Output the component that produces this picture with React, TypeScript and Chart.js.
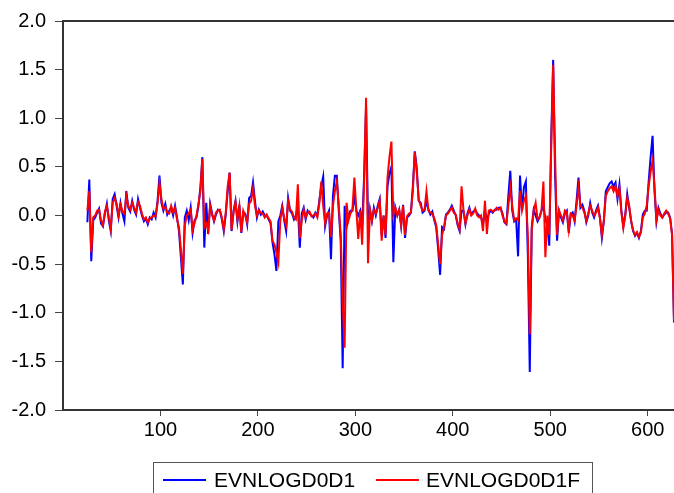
import React, { useEffect, useRef } from "react";
import { Chart, registerables } from "chart.js";

Chart.register(...registerables);

const seriesNames = ["EVNLOGD0D1", "EVNLOGD0D1F"];
const seriesColors = ["#0000ff", "#ff0000"];
const firstObs = 25;
const obsStep = 2;
const xMin = 0;
const xMax = 627;
const xTickValues = [100, 200, 300, 400, 500, 600];
const yTickValues = [-2.0, -1.5, -1.0, -0.5, 0.0, 0.5, 1.0, 1.5, 2.0];

// observations 25, 27, 29, ... 627
const evnlogd0d1 = [
  -0.07, 0.37, -0.47, -0.05, -0.02, 0.03, 0.07, -0.08, -0.11, 0.02,
  0.12, -0.05, -0.16, 0.17, 0.22, 0.1, -0.02, 0.13, 0.02, -0.06,
  0.25, 0.08, 0.04, 0.15, 0.06, 0.01, 0.17, 0.08, 0.0, -0.06,
  -0.03, -0.09, -0.02, -0.04, 0.03, -0.02, 0.15, 0.41, 0.13, 0.05,
  0.12, 0.01, 0.05, 0.08, 0.0, 0.1, -0.02, -0.16, -0.43, -0.71,
  -0.02, 0.05, -0.05, 0.08, -0.18, -0.05, -0.02, 0.1, 0.29, 0.6,
  -0.33, 0.13, -0.19, 0.12, 0.02, -0.06, 0.01, 0.06, 0.05, -0.04,
  -0.16, 0.01, 0.25, 0.44, -0.16, 0.05, 0.15, -0.06, 0.11, -0.18,
  0.03, 0.02, -0.09, 0.18, 0.2, 0.34, 0.15, -0.02, 0.06, 0.01,
  0.04, 0.0, 0.0, -0.04, -0.08, -0.28, -0.4, -0.57, -0.06, 0.0,
  0.1, -0.05, -0.16, 0.18, 0.05, 0.02, -0.04, 0.0, 0.1, -0.33,
  0.02, 0.08, -0.04, 0.05, 0.02, 0.0, -0.02, 0.03, 0.0, 0.15,
  0.3, 0.4, -0.11, 0.0, 0.05, -0.45, 0.2, 0.41, 0.41, 0.05,
  -0.26, -1.57, 0.1, -0.12, 0.0, 0.05, 0.05, 0.2, 0.05, 0.0,
  0.05, -0.1, 0.4, 1.12, -0.05, 0.06, -0.06, 0.08, 0.0, 0.1,
  0.17, -0.2, 0.0, -0.23, 0.3, 0.43, 0.5, -0.48, 0.08, 0.0,
  0.06, -0.11, 0.11, -0.23, -0.02, 0.0, 0.03, 0.3, 0.66, 0.49,
  0.15, 0.13, 0.03, 0.05, 0.15, 0.06, 0.01, 0.04, -0.05, -0.12,
  -0.35, -0.61, -0.12, -0.14, 0.01, 0.03, 0.06, 0.1, 0.05, 0.0,
  -0.1, -0.16, 0.05, 0.05, -0.09, 0.02, 0.08, 0.01, 0.04, 0.06,
  0.02, 0.0, -0.02, -0.09, 0.05, -0.05, 0.02, 0.05, 0.03, 0.06,
  0.06, 0.08, 0.08, 0.02, -0.07, -0.09, 0.2, 0.46, 0.05, -0.06,
  -0.04, -0.42, 0.41, 0.05, 0.29, 0.35, -0.4, -1.61, -0.12, 0.06,
  0.0, -0.06, -0.02, 0.05, 0.1, -0.04, -0.1, -0.31, 0.8, 1.6,
  0.4, -0.26, 0.05, -0.02, -0.07, 0.02, 0.05, -0.18, 0.01, 0.03,
  -0.06, 0.15, 0.39, 0.08, 0.11, 0.05, -0.07, 0.0, 0.13, 0.03,
  -0.02, 0.05, 0.1, -0.02, -0.23, -0.06, 0.25, 0.29, 0.33, 0.35,
  0.3, 0.34, 0.17, 0.32, 0.05, -0.11, 0.01, 0.22, 0.08, -0.06,
  -0.16, -0.21, -0.18, -0.23, -0.16, 0.01, 0.05, 0.05, 0.35, 0.6,
  0.82, 0.25, -0.06, 0.08, 0.02, -0.02, 0.01, 0.03, 0.03, -0.02,
  -0.19, -1.1,
];

const evnlogd0d1f = [
  0.05, 0.25, -0.38, -0.02, 0.0, 0.05, 0.06, -0.05, -0.1, 0.04,
  0.1, -0.02, -0.14, 0.13, 0.18, 0.12, 0.0, 0.11, 0.04, 0.02,
  0.2, 0.1, 0.06, 0.13, 0.08, 0.03, 0.14, 0.1, 0.02, -0.04,
  -0.02, -0.07, -0.03, -0.02, 0.0, -0.01, 0.12, 0.33, 0.17, 0.07,
  0.09, 0.03, 0.02, 0.1, 0.03, 0.08, -0.04, -0.12, -0.35, -0.6,
  -0.1, 0.0, 0.02, 0.06, -0.15, -0.08, 0.0, 0.12, 0.25, 0.58,
  -0.12, -0.08, -0.15, 0.1, 0.0, -0.05, 0.03, 0.05, 0.06, -0.02,
  -0.14, 0.03, 0.3, 0.44, -0.15, 0.03, 0.14, -0.04, 0.1, -0.17,
  0.05, 0.0, -0.07, 0.12, 0.15, 0.28, 0.1, 0.0, 0.05, 0.03,
  0.02, -0.02, 0.01, -0.03, -0.06, -0.26, -0.3, -0.38, -0.48, -0.05,
  0.08, -0.03, -0.1, 0.15, 0.06, 0.04, -0.02, -0.04, 0.32, -0.23,
  -0.05, 0.06, -0.02, 0.03, 0.04, -0.01, 0.0, 0.02, -0.02, 0.12,
  0.35, 0.1, -0.08, 0.02, 0.03, -0.22, 0.1, 0.25, 0.35, 0.1,
  -0.2, -0.9, -1.36, 0.13, -0.05, 0.02, 0.06, 0.39, 0.06, -0.24,
  0.05, -0.3, 0.35, 1.21, -0.49, 0.06, -0.05, 0.06, 0.02, 0.08,
  0.15, -0.26, 0.0, -0.2, 0.39, 0.6, 0.76, 0.01, 0.08, 0.0,
  0.06, -0.1, 0.1, -0.2, -0.01, 0.02, 0.03, 0.25, 0.65, 0.45,
  0.17, 0.1, 0.05, 0.06, 0.25, 0.05, 0.03, 0.02, -0.03, -0.1,
  -0.3, -0.5, -0.2, -0.12, 0.0, 0.02, 0.05, 0.08, 0.03, 0.01,
  -0.08, -0.14, 0.3, 0.05, -0.08, 0.0, 0.06, 0.0, 0.02, 0.07,
  0.0, -0.02, 0.0, -0.16, 0.15, -0.19, 0.05, 0.06, 0.04, 0.05,
  0.08, 0.06, 0.08, 0.0, -0.06, -0.08, 0.1, 0.29, 0.1, -0.05,
  -0.03, -0.05, 0.25, 0.05, 0.15, 0.2, -0.2, -1.22, -0.15, 0.05,
  0.13, -0.04, -0.02, 0.05, 0.35, -0.43, 0.0, -0.2, 0.7, 1.55,
  0.6, -0.2, 0.05, 0.0, -0.05, 0.05, 0.03, -0.15, 0.02, 0.0,
  -0.05, 0.1, 0.29, 0.1, 0.08, 0.03, -0.05, 0.02, 0.1, 0.05,
  0.0, 0.03, 0.08, -0.03, -0.2, -0.05, 0.2, 0.25, 0.28, 0.3,
  0.25, 0.3, 0.2, 0.28, 0.03, -0.13, 0.0, 0.18, 0.1, -0.05,
  -0.15, -0.2, -0.17, -0.22, -0.18, -0.02, 0.02, 0.1, 0.3, 0.45,
  0.56, 0.3, -0.05, 0.06, 0.0, -0.02, 0.02, 0.05, 0.02, -0.03,
  -0.2, -1.08,
];

const FONT = "'Liberation Sans', Arial, Helvetica, sans-serif";

export default function App() {
  const canvasRef = useRef<HTMLCanvasElement | null>(null);

  useEffect(() => {
    const canvas = canvasRef.current;
    if (!canvas) return;
    const toPoints = (vals: number[]) =>
      vals.map((y, i) => ({ x: firstObs + i * obsStep, y }));

    const topFrame = {
      id: "topFrame",
      afterDraw(chart: any) {
        const { ctx, chartArea: a } = chart;
        ctx.save();
        ctx.strokeStyle = "#333";
        ctx.lineWidth = 2;
        ctx.beginPath();
        ctx.moveTo(a.left - 1, a.top);
        ctx.lineTo(a.right, a.top);
        ctx.stroke();
        ctx.restore();
      },
    };

    const chart = new Chart(canvas, {
      type: "line",
      data: {
        datasets: [
          {
            label: seriesNames[0],
            data: toPoints(evnlogd0d1),
            borderColor: seriesColors[0],
            backgroundColor: seriesColors[0],
            borderWidth: 2,
            pointRadius: 0,
            tension: 0,
            order: 1,
          },
          {
            label: seriesNames[1],
            data: toPoints(evnlogd0d1f),
            borderColor: seriesColors[1],
            backgroundColor: seriesColors[1],
            borderWidth: 2,
            pointRadius: 0,
            tension: 0,
            order: 0,
          },
        ],
      },
      options: {
        animation: false,
        responsive: false,
        maintainAspectRatio: false,
        events: [],
        layout: {
          autoPadding: false,
          padding: { top: 19, left: 0, right: 0, bottom: 0 },
        } as any,
        plugins: {
          legend: { display: false },
          tooltip: { enabled: false },
        },
        scales: {
          x: {
            type: "linear",
            min: xMin,
            max: xMax,
            afterBuildTicks: (s: any) => {
              s.ticks = xTickValues.map((v) => ({ value: v }));
            },
            afterFit: (s: any) => {
              s.height = 83;
            },
            ticks: {
              font: { family: FONT, size: 20 },
              color: "#000",
              padding: 2,
              maxRotation: 0,
              autoSkip: false,
              callback: (v: any) => String(v),
            },
            grid: {
              drawOnChartArea: false,
              drawTicks: true,
              tickLength: 6,
              tickColor: "#444",
            },
            border: { color: "#333", width: 2 },
          },
          y: {
            type: "linear",
            min: -2,
            max: 2,
            afterBuildTicks: (s: any) => {
              s.ticks = yTickValues.map((v) => ({ value: v }));
            },
            afterFit: (s: any) => {
              s.width = 63;
            },
            ticks: {
              font: { family: FONT, size: 20 },
              color: "#000",
              padding: 9,
              callback: (v: any) => Number(v).toFixed(1),
            },
            grid: {
              drawOnChartArea: false,
              drawTicks: true,
              tickLength: 8,
              tickColor: "#444",
            },
            border: { color: "#333", width: 2 },
          },
        },
      },
      plugins: [topFrame],
    });

    return () => chart.destroy();
  }, []);

  return (
    <div
      style={{
        position: "fixed",
        left: 0,
        top: 0,
        width: 674,
        height: 493,
        overflow: "hidden",
        background: "#fff",
      }}
    >
      <canvas
        ref={canvasRef}
        width={674}
        height={493}
        style={{ display: "block", width: 674, height: 493 }}
      />
      <div
        style={{
          position: "absolute",
          left: 153,
          top: 462,
          width: 440,
          height: 45,
          border: "1px solid #555",
          boxSizing: "border-box",
          fontFamily: FONT,
        }}
      >
        {seriesNames.map((name, i) => (
          <React.Fragment key={name}>
            <div
              style={{
                position: "absolute",
                left: i === 0 ? 9 : 222,
                top: 16,
                width: 43,
                height: 2,
                background: seriesColors[i],
              }}
            />
            <div
              style={{
                position: "absolute",
                left: i === 0 ? 60 : 272,
                top: 5,
                fontSize: 21,
                lineHeight: "24px",
                color: "#000",
                whiteSpace: "nowrap",
              }}
            >
              {name}
            </div>
          </React.Fragment>
        ))}
      </div>
    </div>
  );
}
